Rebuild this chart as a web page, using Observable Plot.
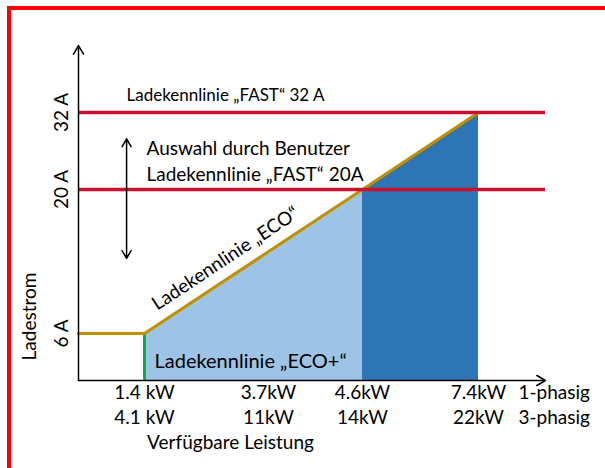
<!DOCTYPE html>
<html><head><meta charset="utf-8">
<script src="https://cdn.jsdelivr.net/npm/d3@7"></script>
<script src="https://cdn.jsdelivr.net/npm/@observablehq/plot@0.6"></script>
<style>
body{margin:0;background:#fff;}
#wrap{position:relative;width:605px;height:468px;overflow:hidden;}
#border{position:absolute;left:7px;top:6px;width:700px;height:600px;border-top:4px solid #ff0000;border-left:4px solid #ff0000;}
#chart{position:absolute;left:0;top:0;}
</style></head><body>
<div id="wrap"><div id="border"></div><div id="chart"></div></div>
<script>
// ---- data ----
const powerTicks = [1.4, 3.7, 4.6, 7.4];             // kW (1-phase)
const labels1Phase = ["1.4 kW", "3.7kW", "4.6kW", "7.4kW"];
const labels3Phase = ["4.1 kW", "11kW", "14kW", "22kW"];
const currentTicks = [6, 20, 32];                     // A
const currentLabels = ["6 A", "20 A", "32 A"];
const ecoCurve = [{p: 0, a: 6}, {p: 1.4, a: 6}, {p: 4.6, a: 20}, {p: 7.4, a: 32}];
const ecoPlusArea = [{p: 1.4, a: 6}, {p: 4.6, a: 20}];
const fastArea = [{p: 4.6, a: 20}, {p: 7.4, a: 32}];
const minCurrent = [{p: 1.4, a: 6}];
const fastLimits = [20, 32];
const xEnd = 8.5, yEnd = 42;

// ---- schematic (piecewise) scales ----
const sx = d3.scaleLinear([0, 1.4, 3.7, 4.6, 7.4, xEnd], [78, 144, 268, 362, 478, 545]);
const sy = d3.scaleLinear([0, 6, 20, 32, yEnd], [380, 333, 189, 112, 45]);
const ecoAngle = Math.atan2(sy(20) - sy(6), sx(4.6) - sx(1.4)) * 180 / Math.PI;
const X = d => sx(d.p), Y = d => sy(d.a), Y0 = () => sy(0);

const FS = 19;
const chart = Plot.plot({
  width: 605, height: 468,
  marginLeft: 78, marginRight: 60, marginTop: 45, marginBottom: 88,
  style: {fontFamily: "Lato, sans-serif", fontSize: FS + "px", background: "transparent", color: "#000"},
  x: {type: "identity", axis: null},
  y: {type: "identity", axis: null},
  marks: [
    Plot.areaY(ecoPlusArea, {x: X, y1: Y0, y2: Y, fill: "#9DC3E6"}),
    Plot.areaY(fastArea, {x: X, y1: Y0, y2: Y, fill: "#2E75B6"}),
    Plot.ruleX(minCurrent, {x: X, y1: Y0, y2: Y, stroke: "#00B050", strokeWidth: 3}),
    Plot.line(ecoCurve, {x: X, y: Y, stroke: "#BF9000", strokeWidth: 3}),
    Plot.ruleY(fastLimits, {y: d => sy(d), x1: () => sx(0), x2: () => sx(xEnd), stroke: "#C8102E", strokeWidth: 3.5}),
    // axes with arrows
    Plot.arrow([0], {x1: () => sx(0), y1: () => sy(0), x2: () => sx(0), y2: () => sy(yEnd), stroke: "#000", strokeWidth: 1.5, headLength: 10}),
    Plot.arrow([0], {x1: () => sx(0), y1: () => sy(0), x2: () => sx(xEnd), y2: () => sy(0), stroke: "#000", strokeWidth: 1.5, headLength: 10}),
    // user selection double arrow
    Plot.arrow([0], {x1: () => sx(1.02), y1: () => sy(20), x2: () => sx(1.02), y2: () => sy(27.9), stroke: "#000", strokeWidth: 1.5, headLength: 9}),
    Plot.arrow([0], {x1: () => sx(1.02), y1: () => sy(20), x2: () => sx(1.02), y2: () => sy(13.3), stroke: "#000", strokeWidth: 1.5, headLength: 9}),
    // y tick labels
    Plot.text(currentTicks, {y: d => sy(d), text: (d, i) => currentLabels[i], frameAnchor: "left", textAnchor: "middle", rotate: -90, dx: -17, fontSize: FS}),
    Plot.text(["Ladestrom"], {frameAnchor: "bottom-left", textAnchor: "middle", rotate: -90, dx: -43, dy: -64, fontSize: FS}),
    // x tick labels
    Plot.text(powerTicks, {x: d => sx(d), text: (d, i) => labels1Phase[i], frameAnchor: "bottom", dy: 18, fontSize: FS}),
    Plot.text(powerTicks, {x: d => sx(d), text: (d, i) => labels3Phase[i], frameAnchor: "bottom", dy: 43, fontSize: FS}),
    Plot.text(["1-phasig"], {frameAnchor: "bottom-right", textAnchor: "start", dx: -27, dy: 18, fontSize: FS}),
    Plot.text(["3-phasig"], {frameAnchor: "bottom-right", textAnchor: "start", dx: -27, dy: 43, fontSize: FS}),
    Plot.text(["Verfügbare Leistung"], {frameAnchor: "bottom-left", textAnchor: "middle", dx: 152, dy: 68, fontSize: FS}),
    // annotations
    Plot.text(["Ladekennlinie „FAST“ 32 A"], {frameAnchor: "left", y: () => sy(32), textAnchor: "start", dx: 48, dy: -17, fontSize: 17}),
    Plot.text(["Auswahl durch Benutzer"], {frameAnchor: "left", y: () => sy(20), textAnchor: "start", dx: 68, dy: -41, fontSize: FS}),
    Plot.text(["Ladekennlinie „FAST“ 20A"], {frameAnchor: "left", y: () => sy(20), textAnchor: "start", dx: 68, dy: -15, fontSize: FS}),
    Plot.text(["Ladekennlinie „ECO“"], {x: () => sx(1.4), y: () => sy(6), rotate: ecoAngle, dx: 81, dy: -75, fontSize: FS}),
    Plot.text(["Ladekennlinie „ECO+“"], {x: () => sx(1.4), y: () => sy(0), textAnchor: "start", dx: 10, dy: -19, fontSize: 20})
  ]
});
document.getElementById("chart").append(chart);
</script>
</body></html>
